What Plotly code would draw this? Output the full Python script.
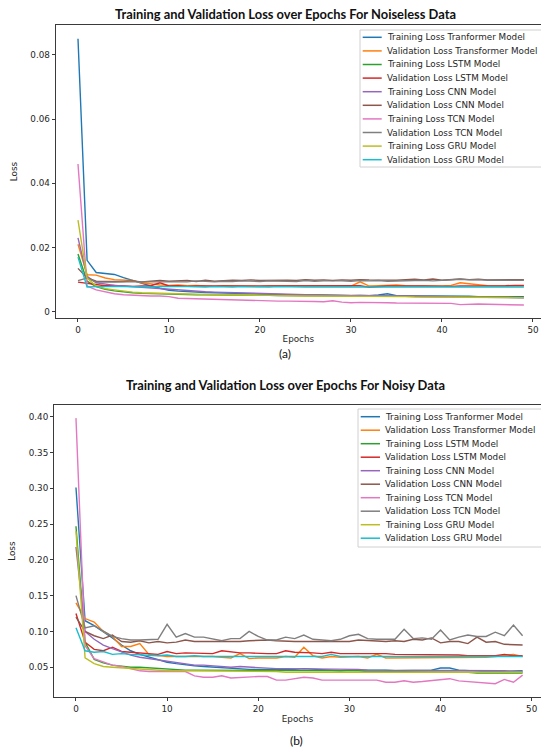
import plotly.graph_objects as go

# ---------------- data ----------------
epochs = list(range(50))

series_names = [
    "Training Loss Tranformer Model", "Validation Loss Transformer Model",
    "Training Loss LSTM Model", "Validation Loss LSTM Model",
    "Training Loss CNN Model", "Validation Loss CNN Model",
    "Training Loss TCN Model", "Validation Loss TCN Model",
    "Training Loss GRU Model", "Validation Loss GRU Model",
]
colors = ["#1f77b4", "#ff7f0e", "#2ca02c", "#d62728", "#9467bd",
          "#8c564b", "#e377c2", "#7f7f7f", "#bcbd22", "#17becf"]

# (a) noiseless data
a_train_transformer = [0.0850, 0.0160, 0.0122, 0.0120, 0.0116, 0.0106, 0.0097, 0.0088, 0.0080, 0.0073,
                       0.0067, 0.0064, 0.0062, 0.0061, 0.0060, 0.0059, 0.0058, 0.0057, 0.0056, 0.0055,
                       0.0054, 0.0054, 0.0053, 0.0053, 0.0052, 0.0053, 0.0052, 0.0051, 0.0051, 0.0050,
                       0.0050, 0.0051, 0.0050, 0.0052, 0.0056, 0.0050, 0.0050, 0.0049, 0.0049, 0.0049,
                       0.0048, 0.0048, 0.0050, 0.0048, 0.0047, 0.0047, 0.0048, 0.0048, 0.0047, 0.0047]
a_val_transformer = [0.0210, 0.0115, 0.0114, 0.0105, 0.0100, 0.0099, 0.0097, 0.0090, 0.0086, 0.0083,
                     0.0082, 0.0083, 0.0081, 0.0082, 0.0080, 0.0079, 0.0081, 0.0080, 0.0079, 0.0080,
                     0.0078, 0.0080, 0.0080, 0.0079, 0.0080, 0.0079, 0.0080, 0.0081, 0.0080, 0.0080,
                     0.0080, 0.0093, 0.0080, 0.0081, 0.0082, 0.0083, 0.0081, 0.0080, 0.0080, 0.0080,
                     0.0080, 0.0082, 0.0090, 0.0087, 0.0083, 0.0081, 0.0080, 0.0080, 0.0082, 0.0080]
a_train_lstm = [0.0180, 0.0095, 0.0078, 0.0070, 0.0065, 0.0061, 0.0059, 0.0057, 0.0056, 0.0055,
                0.0055, 0.0054, 0.0054, 0.0053, 0.0053, 0.0053, 0.0052, 0.0052, 0.0052, 0.0051,
                0.0051, 0.0051, 0.0050, 0.0050, 0.0050, 0.0050, 0.0050, 0.0050, 0.0049, 0.0049,
                0.0049, 0.0049, 0.0049, 0.0048, 0.0048, 0.0048, 0.0048, 0.0048, 0.0047, 0.0047,
                0.0047, 0.0047, 0.0046, 0.0046, 0.0046, 0.0045, 0.0045, 0.0045, 0.0044, 0.0044]
a_val_lstm = [0.0092, 0.0088, 0.0083, 0.0081, 0.0082, 0.0080, 0.0079, 0.0080, 0.0081, 0.0090,
              0.0080, 0.0081, 0.0079, 0.0080, 0.0080, 0.0081, 0.0079, 0.0080, 0.0080, 0.0079,
              0.0080, 0.0081, 0.0080, 0.0079, 0.0080, 0.0080, 0.0079, 0.0080, 0.0080, 0.0079,
              0.0080, 0.0081, 0.0076, 0.0079, 0.0080, 0.0080, 0.0079, 0.0080, 0.0080, 0.0079,
              0.0080, 0.0079, 0.0080, 0.0080, 0.0079, 0.0080, 0.0081, 0.0081, 0.0082, 0.0082]
a_train_cnn = [0.0230, 0.0110, 0.0090, 0.0085, 0.0082, 0.0080, 0.0078, 0.0076, 0.0074, 0.0071,
               0.0068, 0.0066, 0.0065, 0.0063, 0.0062, 0.0061, 0.0060, 0.0059, 0.0058, 0.0057,
               0.0056, 0.0056, 0.0055, 0.0054, 0.0054, 0.0053, 0.0053, 0.0052, 0.0052, 0.0052,
               0.0051, 0.0051, 0.0050, 0.0050, 0.0050, 0.0049, 0.0049, 0.0049, 0.0048, 0.0048,
               0.0047, 0.0047, 0.0046, 0.0046, 0.0045, 0.0045, 0.0044, 0.0044, 0.0044, 0.0043]
a_val_cnn = [0.0135, 0.0105, 0.0095, 0.0094, 0.0095, 0.0094, 0.0096, 0.0093, 0.0095, 0.0097,
             0.0095, 0.0096, 0.0097, 0.0094, 0.0098, 0.0095, 0.0097, 0.0098, 0.0097, 0.0099,
             0.0097, 0.0098, 0.0099, 0.0098, 0.0097, 0.0100, 0.0098, 0.0099, 0.0097, 0.0099,
             0.0098, 0.0100, 0.0099, 0.0098, 0.0099, 0.0098, 0.0100, 0.0101, 0.0099, 0.0102,
             0.0098, 0.0099, 0.0102, 0.0100, 0.0101, 0.0099, 0.0100, 0.0101, 0.0100, 0.0100]
a_train_tcn = [0.0460, 0.0080, 0.0068, 0.0061, 0.0056, 0.0053, 0.0051, 0.0050, 0.0049, 0.0049,
               0.0047, 0.0042, 0.0041, 0.0041, 0.0040, 0.0038, 0.0038, 0.0037, 0.0036, 0.0035,
               0.0034, 0.0034, 0.0033, 0.0033, 0.0033, 0.0034, 0.0032, 0.0031, 0.0034, 0.0030,
               0.0028, 0.0029, 0.0029, 0.0030, 0.0028, 0.0027, 0.0027, 0.0028, 0.0027, 0.0027,
               0.0027, 0.0026, 0.0022, 0.0024, 0.0024, 0.0023, 0.0022, 0.0022, 0.0021, 0.0021]
a_val_tcn = [0.0097, 0.0105, 0.0092, 0.0091, 0.0092, 0.0093, 0.0093, 0.0092, 0.0093, 0.0093,
             0.0094, 0.0094, 0.0093, 0.0096, 0.0094, 0.0093, 0.0095, 0.0094, 0.0096, 0.0095,
             0.0094, 0.0096, 0.0095, 0.0096, 0.0094, 0.0097, 0.0095, 0.0096, 0.0097, 0.0096,
             0.0095, 0.0097, 0.0096, 0.0097, 0.0095, 0.0096, 0.0098, 0.0097, 0.0098, 0.0096,
             0.0097, 0.0098, 0.0101, 0.0099, 0.0100, 0.0098, 0.0099, 0.0098, 0.0098, 0.0098]
a_train_gru = [0.0285, 0.0105, 0.0080, 0.0072, 0.0068, 0.0064, 0.0061, 0.0059, 0.0058, 0.0057,
               0.0056, 0.0055, 0.0055, 0.0054, 0.0054, 0.0053, 0.0053, 0.0052, 0.0052, 0.0051,
               0.0051, 0.0051, 0.0050, 0.0050, 0.0050, 0.0049, 0.0049, 0.0049, 0.0049, 0.0048,
               0.0048, 0.0048, 0.0048, 0.0047, 0.0047, 0.0047, 0.0047, 0.0046, 0.0046, 0.0046,
               0.0046, 0.0046, 0.0045, 0.0045, 0.0045, 0.0045, 0.0044, 0.0044, 0.0044, 0.0044]
a_val_gru = [0.0170, 0.0077, 0.0078, 0.0079, 0.0078, 0.0078, 0.0077, 0.0078, 0.0077, 0.0078,
             0.0077, 0.0078, 0.0078, 0.0077, 0.0077, 0.0078, 0.0077, 0.0077, 0.0078, 0.0077,
             0.0077, 0.0077, 0.0078, 0.0077, 0.0077, 0.0077, 0.0077, 0.0078, 0.0077, 0.0077,
             0.0077, 0.0077, 0.0077, 0.0077, 0.0078, 0.0077, 0.0077, 0.0077, 0.0076, 0.0077,
             0.0077, 0.0077, 0.0077, 0.0076, 0.0077, 0.0077, 0.0077, 0.0077, 0.0077, 0.0077]

# (b) noisy data
b_train_transformer = [0.301, 0.115, 0.108, 0.100, 0.091, 0.081, 0.073, 0.068, 0.064, 0.060,
                       0.057, 0.055, 0.053, 0.052, 0.051, 0.050, 0.049, 0.048, 0.048, 0.047,
                       0.047, 0.047, 0.047, 0.046, 0.047, 0.048, 0.047, 0.046, 0.046, 0.045,
                       0.046, 0.046, 0.046, 0.047, 0.046, 0.045, 0.045, 0.046, 0.045, 0.046,
                       0.049, 0.049, 0.046, 0.045, 0.045, 0.044, 0.044, 0.044, 0.045, 0.045]
b_val_transformer = [0.140, 0.118, 0.113, 0.100, 0.093, 0.079, 0.079, 0.083, 0.068, 0.066,
                     0.065, 0.065, 0.065, 0.066, 0.065, 0.065, 0.064, 0.063, 0.069, 0.062,
                     0.063, 0.063, 0.063, 0.065, 0.064, 0.078, 0.066, 0.063, 0.065, 0.064,
                     0.064, 0.065, 0.063, 0.068, 0.063, 0.063, 0.064, 0.064, 0.064, 0.064,
                     0.064, 0.064, 0.064, 0.064, 0.064, 0.064, 0.065, 0.067, 0.068, 0.065]
b_train_lstm = [0.247, 0.085, 0.061, 0.056, 0.053, 0.051, 0.050, 0.050, 0.049, 0.049,
                0.047, 0.047, 0.046, 0.046, 0.046, 0.046, 0.045, 0.045, 0.045, 0.045,
                0.045, 0.045, 0.045, 0.045, 0.045, 0.045, 0.045, 0.045, 0.045, 0.045,
                0.045, 0.045, 0.044, 0.044, 0.044, 0.044, 0.044, 0.044, 0.043, 0.043,
                0.043, 0.043, 0.043, 0.043, 0.042, 0.042, 0.042, 0.042, 0.042, 0.042]
b_val_lstm = [0.125, 0.085, 0.075, 0.073, 0.078, 0.072, 0.071, 0.070, 0.069, 0.068,
              0.072, 0.069, 0.070, 0.070, 0.070, 0.069, 0.073, 0.071, 0.070, 0.070,
              0.069, 0.069, 0.069, 0.073, 0.071, 0.071, 0.070, 0.069, 0.071, 0.069,
              0.069, 0.069, 0.070, 0.069, 0.069, 0.068, 0.068, 0.068, 0.068, 0.067,
              0.067, 0.067, 0.067, 0.066, 0.066, 0.066, 0.066, 0.068, 0.066, 0.066]
b_train_cnn = [0.218, 0.100, 0.089, 0.081, 0.076, 0.071, 0.067, 0.064, 0.062, 0.060,
               0.058, 0.056, 0.054, 0.053, 0.053, 0.052, 0.051, 0.050, 0.051, 0.050,
               0.049, 0.049, 0.048, 0.048, 0.048, 0.048, 0.047, 0.047, 0.047, 0.047,
               0.047, 0.047, 0.046, 0.046, 0.046, 0.046, 0.046, 0.046, 0.046, 0.045,
               0.046, 0.046, 0.045, 0.045, 0.045, 0.045, 0.045, 0.045, 0.044, 0.044]
b_val_cnn = [0.120, 0.100, 0.094, 0.090, 0.095, 0.086, 0.085, 0.087, 0.084, 0.086,
             0.084, 0.085, 0.088, 0.086, 0.086, 0.086, 0.085, 0.086, 0.086, 0.087,
             0.088, 0.088, 0.087, 0.086, 0.086, 0.086, 0.086, 0.086, 0.086, 0.086,
             0.086, 0.088, 0.087, 0.087, 0.086, 0.087, 0.086, 0.089, 0.088, 0.091,
             0.084, 0.086, 0.086, 0.083, 0.092, 0.085, 0.086, 0.082, 0.082, 0.081]
b_train_tcn = [0.398, 0.080, 0.062, 0.057, 0.053, 0.051, 0.048, 0.045, 0.044, 0.044,
               0.045, 0.045, 0.044, 0.038, 0.036, 0.036, 0.038, 0.035, 0.036, 0.036,
               0.037, 0.037, 0.032, 0.032, 0.034, 0.036, 0.035, 0.032, 0.032, 0.032,
               0.031, 0.032, 0.032, 0.032, 0.029, 0.029, 0.031, 0.029, 0.030, 0.031,
               0.033, 0.034, 0.031, 0.030, 0.030, 0.029, 0.027, 0.033, 0.029, 0.039]
b_val_tcn = [0.150, 0.105, 0.108, 0.100, 0.093, 0.090, 0.088, 0.088, 0.089, 0.089,
             0.110, 0.092, 0.097, 0.092, 0.092, 0.090, 0.087, 0.090, 0.090, 0.100,
             0.093, 0.088, 0.088, 0.092, 0.090, 0.095, 0.089, 0.088, 0.087, 0.089,
             0.094, 0.096, 0.090, 0.089, 0.089, 0.089, 0.103, 0.090, 0.091, 0.089,
             0.102, 0.088, 0.092, 0.095, 0.093, 0.093, 0.099, 0.094, 0.109, 0.094]
b_train_gru = [0.240, 0.063, 0.055, 0.051, 0.050, 0.049, 0.048, 0.047, 0.046, 0.046,
               0.045, 0.045, 0.045, 0.044, 0.044, 0.044, 0.044, 0.044, 0.044, 0.044,
               0.044, 0.044, 0.044, 0.043, 0.043, 0.043, 0.043, 0.043, 0.043, 0.043,
               0.043, 0.043, 0.043, 0.043, 0.043, 0.043, 0.043, 0.043, 0.043, 0.043,
               0.043, 0.043, 0.043, 0.043, 0.043, 0.043, 0.043, 0.043, 0.043, 0.043]
b_val_gru = [0.105, 0.073, 0.071, 0.072, 0.068, 0.069, 0.068, 0.067, 0.067, 0.066,
             0.067, 0.065, 0.065, 0.066, 0.065, 0.065, 0.065, 0.065, 0.065, 0.064,
             0.064, 0.065, 0.065, 0.065, 0.064, 0.065, 0.065, 0.065, 0.068, 0.065,
             0.065, 0.065, 0.065, 0.065, 0.065, 0.065, 0.066, 0.065, 0.065, 0.065,
             0.065, 0.065, 0.065, 0.065, 0.065, 0.065, 0.065, 0.065, 0.065, 0.065]

a_series = [a_train_transformer, a_val_transformer, a_train_lstm, a_val_lstm, a_train_cnn,
            a_val_cnn, a_train_tcn, a_val_tcn, a_train_gru, a_val_gru]
b_series = [b_train_transformer, b_val_transformer, b_train_lstm, b_val_lstm, b_train_cnn,
            b_val_cnn, b_train_tcn, b_val_tcn, b_train_gru, b_val_gru]

title_a = "Training and Validation Loss over Epochs For Noiseless Data"
title_b = "Training and Validation Loss over Epochs For Noisy Data"
a_yticks = [0, 0.02, 0.04, 0.06, 0.08]
a_yticktext = ["0", "0.02", "0.04", "0.06", "0.08"]
b_yticks = [0.05, 0.10, 0.15, 0.20, 0.25, 0.30, 0.35, 0.40]
b_yticktext = ["0.05", "0.10", "0.15", "0.20", "0.25", "0.30", "0.35", "0.40"]
x_ticks = [0, 10, 20, 30, 40, 50]

# ---------------- layout helpers ----------------
W, H = 541, 748
def px(x):
    return x / W
def py(y):
    return 1 - y / H

FONT = "DejaVu Sans"
TXT = "#262626"
AX = "#3a3a3a"
FS = 8.8

fig = go.Figure()
for i, (name, col) in enumerate(zip(series_names, colors)):
    fig.add_trace(go.Scatter(x=epochs, y=a_series[i], mode="lines", name=name,
                             line=dict(color=col, width=1.4), xaxis="x", yaxis="y",
                             showlegend=False))
for i, (name, col) in enumerate(zip(series_names, colors)):
    fig.add_trace(go.Scatter(x=epochs, y=b_series[i], mode="lines", name=name,
                             line=dict(color=col, width=1.4), xaxis="x2", yaxis="y2",
                             showlegend=False))

axis_common = dict(showgrid=False, zeroline=False, showline=True, linecolor=AX, linewidth=1,
                   ticks="outside", ticklen=3, tickwidth=1, tickcolor=AX,
                   tickfont=dict(family=FONT, size=FS, color=TXT))

fig.update_layout(
    width=W, height=H, margin=dict(l=0, r=0, t=0, b=0),
    paper_bgcolor="white", plot_bgcolor="white",
    xaxis=dict(domain=[px(55.7), 1], range=[-2.45, 50.88], tickvals=x_ticks, mirror=True,
               anchor="y", title=dict(text="Epochs", standoff=2,
                                      font=dict(family=FONT, size=FS, color=TXT)),
               **axis_common),
    yaxis=dict(domain=[py(318), py(25)], range=[-0.00196, 0.0893], tickvals=a_yticks,
               ticktext=a_yticktext, anchor="x",
               title=dict(text="Loss", standoff=11, font=dict(family=FONT, size=FS, color=TXT)),
               **axis_common),
    xaxis2=dict(domain=[px(54), 1], range=[-2.41, 51.02], tickvals=x_ticks, mirror=True,
                anchor="y2", title=dict(text="Epochs", standoff=2,
                                        font=dict(family=FONT, size=FS, color=TXT)),
                **axis_common),
    yaxis2=dict(domain=[py(697.3), py(405)], range=[0.008, 0.4163], tickvals=b_yticks,
                ticktext=b_yticktext, anchor="x2",
                title=dict(text="Loss", standoff=11, font=dict(family=FONT, size=FS, color=TXT)),
                **axis_common),
)

annotations = []
shapes = []

# titles and panel labels
annotations.append(dict(text="<b>" + title_a + "</b>", x=px(285), y=py(14), xref="paper", yref="paper",
                        showarrow=False, xanchor="center", yanchor="middle",
                        font=dict(family="Lato", size=12.9, color="#111")))
annotations.append(dict(text="<b>" + title_b + "</b>", x=px(285), y=py(385), xref="paper", yref="paper",
                        showarrow=False, xanchor="center", yanchor="middle",
                        font=dict(family="Lato", size=12.9, color="#111")))
annotations.append(dict(text="(a)", x=px(285), y=py(353), xref="paper", yref="paper",
                        showarrow=False, xanchor="center", yanchor="middle",
                        font=dict(family="Lato", size=12, color="#111")))
annotations.append(dict(text="(b)", x=px(296), y=py(740), xref="paper", yref="paper",
                        showarrow=False, xanchor="center", yanchor="middle",
                        font=dict(family="Lato", size=12, color="#111")))

# legends (manual, compact like matplotlib)
def add_legend(box_left, box_top, box_bottom, first_y, step, line_x0, line_x1, text_x):
    shapes.append(dict(type="rect", xref="paper", yref="paper",
                       x0=px(box_left), x1=px(W + 5), y0=py(box_bottom), y1=py(box_top),
                       line=dict(color="#d0d0d0", width=1), fillcolor="rgba(255,255,255,0.8)",
                       layer="above"))
    for i, (name, col) in enumerate(zip(series_names, colors)):
        yy = first_y + i * step
        shapes.append(dict(type="line", xref="paper", yref="paper",
                           x0=px(line_x0), x1=px(line_x1), y0=py(yy), y1=py(yy),
                           line=dict(color=col, width=1.5), layer="above"))
        annotations.append(dict(text=name, x=px(text_x), y=py(yy), xref="paper", yref="paper",
                                showarrow=False, xanchor="left", yanchor="middle",
                                font=dict(family=FONT, size=FS, color=TXT)))

add_legend(360, 30, 167, 37.3, 13.6, 362.7, 381.7, 384.5)
add_legend(358, 409, 547, 416.7, 13.5, 360.7, 380, 383)

fig.update_layout(annotations=annotations, shapes=shapes)
fig.write_html("out.html", config={"displayModeBar": False},
               post_script="document.body.style.margin='0px';document.body.style.overflow='hidden';")
